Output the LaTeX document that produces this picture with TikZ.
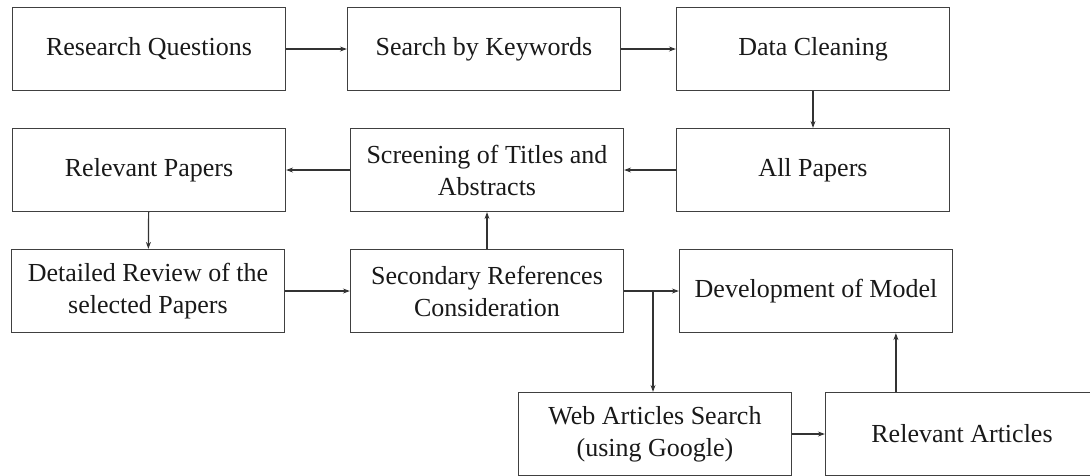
\documentclass[tikz,border=0pt]{standalone}
\usepackage{fontspec}
\setmainfont{Liberation Serif}
\usetikzlibrary{arrows.meta}
\begin{document}
\begin{tikzpicture}[x=1pt,y=1pt,
  stagebox/.style={draw=black!75,line width=1.2pt,minimum width=273pt,minimum height=83pt,
    inner sep=0pt,align=center,font=\fontsize{26}{32}\selectfont,text=black!90},
  flow/.style={line width=1.2pt,draw=black!80,-{Stealth[length=7pt,width=5pt]}}]
\clip (0,0) rectangle (1090,-475);

\node[stagebox] (rq) at (149,-49) {Research Questions};
\node[stagebox] (sk) at (484,-49) {Search by Keywords};
\node[stagebox] (dc) at (813,-49) {Data Cleaning};

\node[stagebox] (rp) at (149,-170) {Relevant Papers};
\node[stagebox] (st) at (487,-170) {Screening of Titles and\\Abstracts};
\node[stagebox] (ap) at (813,-170) {All Papers};

\node[stagebox] (dr) at (148,-291) {Detailed Review of the\\selected Papers};
\node[stagebox] (sr) at (487,-291) {Secondary References\\Consideration};
\node[stagebox] (dm) at (816,-291) {Development of Model};

\node[stagebox] (wa) at (655,-434) {Web Articles Search\\(using Google)};
\node[stagebox] (ra) at (962,-434) {Relevant Articles};

\coordinate (split) at (653,-291);

\draw[flow] (rq) -- (sk);
\draw[flow] (sk) -- (dc);
\draw[flow] (dc) -- (ap);
\draw[flow] (ap) -- (st);
\draw[flow] (st) -- (rp);
\draw[flow] (rp) -- (dr);
\draw[flow] (dr) -- (sr);
\draw[flow] (sr) -- (st);
\draw[flow] (sr) -- (dm);
\draw[flow] (split) -- (split |- wa.north);
\draw[flow] (wa) -- (ra);
\draw[flow] ([xshift=71pt]ra.north west) -- ([xshift=71pt]ra.north west |- dm.south);
\end{tikzpicture}
\end{document}
